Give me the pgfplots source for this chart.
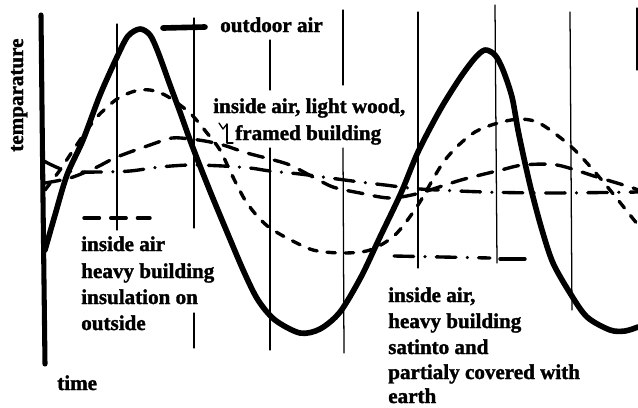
\documentclass[border=0pt]{standalone}
\usepackage{fontspec}
\setmainfont{Liberation Serif}[BoldFeatures={FakeBold=1.5}]
\usepackage{pgfplots}
\pgfplotsset{compat=1.18}
\tikzset{lbl/.style={anchor=base west, inner sep=0pt, font=\fontsize{15}{18}\selectfont\bfseries}}
\begin{document}
\begin{tikzpicture}
\begin{axis}[
  scale only axis, width=15.95cm, height=10.175cm,
  xmin=0, xmax=638, ymin=0, ymax=407, y dir=reverse,
  hide axis, clip=false,
  every axis plot/.append style={line cap=round, line join=round},
]
% vertical grid lines
\addplot[black, line width=0.9pt] coordinates {(117,24) (117,230)};
\addplot[black, line width=0.9pt] coordinates {(194,18) (194,228)};
\addplot[black, line width=0.9pt] coordinates {(194,313) (194,348)};
\addplot[black, line width=0.9pt] coordinates {(270,40) (270,90)};
\addplot[black, line width=0.9pt] coordinates {(270,148) (270,350)};
\addplot[black, line width=0.9pt] coordinates {(343,10) (343,85)};
\addplot[black, line width=0.9pt] coordinates {(343,148) (344,353)};
\addplot[black, line width=0.9pt] coordinates {(418,12) (418,268)};
\addplot[black, line width=0.9pt] coordinates {(495,5) (497,263)};
\addplot[black, line width=0.9pt] coordinates {(570,12) (572,310)};
\addplot[black, line width=0.9pt] coordinates {(637,8) (637,70)};
% bracket mark
\addplot[black, line width=0.9pt] coordinates {(219,123) (223,129) (227,124)};
\addplot[black, line width=0.9pt] coordinates {(227,124) (227,143) (233,143)};
% vertical axis
\addplot[black, line width=3.6pt] coordinates {(41,15) (43,200) (45,364)};
% outdoor air
\addplot[black, line width=4pt, smooth, tension=0.5] coordinates {
(45,250) (55,215) (67,175) (83,140) (100,95) (117,57) (128,36) (140,29) (150,35) (158,52)
(170,85) (180,112) (190,140) (200,166) (212,196) (227,232) (244,272) (258,300) (275,320)
(300,333) (320,329) (340,312) (361,277) (380,237) (401,193) (418,152) (440,110) (460,78)
(475,58) (485,50) (495,55) (503,70) (512,97) (518,130) (525,163) (532,193) (542,230)
(553,263) (570,293) (587,317) (610,330) (625,331) (638,327)};
% inside air, light wood
\addplot[black, line width=2.4pt, dash pattern=on 6pt off 7pt, smooth, tension=0.5] coordinates {
(45,190) (60,170) (80,140) (97,117) (117,99) (135,91) (150,90) (165,95) (180,105) (192,115)
(207,133) (220,150) (232,175) (245,200) (258,217) (270,228) (287,238) (313,250) (343,253)
(370,250) (395,235) (418,205) (445,160) (475,132) (511,120) (537,122) (567,143) (587,163)
(610,190) (638,225)};
% inside air, heavy, insulation outside
\addplot[black, line width=2.4pt, dash pattern=on 11pt off 8pt, smooth, tension=0.5] coordinates {
(45,183) (70,178) (95,168) (117,157) (150,145) (172,138) (190,139) (205,141) (223,145)
(247,153) (270,159) (290,165) (313,177) (333,187) (360,193) (390,198) (420,193) (461,180)
(501,170) (523,165) (557,165) (597,177) (630,187) (638,190)};
% inside air, heavy, earth
\addplot[black, line width=2.4pt, dash pattern=on 14pt off 8pt on 0.1pt off 8pt, smooth, tension=0.5] coordinates {
(42,160) (67,171) (100,172) (130,171) (160,167) (190,165) (223,166) (250,168) (270,171)
(300,174) (330,178) (360,182) (385,185) (420,189) (485,192) (551,193) (638,192)};
% legend samples
\addplot[black, line width=4pt] coordinates {(163,28) (205,27)};
\addplot[black, line width=2.4pt, dash pattern=on 11pt off 8pt] coordinates {(84,218) (150,218)};
\addplot[black, line width=2.4pt, dash pattern=on 14pt off 8pt on 0.1pt off 8pt] coordinates {(394,256) (490,258)};
\addplot[black, line width=2.4pt] coordinates {(500,259) (525,259)};
% labels
\node[lbl] at (axis cs:220,32) {outdoor air};
\node[lbl] at (axis cs:213,113) {inside air, light wood,};
\node[lbl] at (axis cs:235,140) {framed building};
\node[lbl] at (axis cs:81,251) {inside air};
\node[lbl] at (axis cs:81,278) {heavy building};
\node[lbl] at (axis cs:81,304) {insulation on};
\node[lbl] at (axis cs:81,330) {outside};
\node[lbl] at (axis cs:388,302) {inside air,};
\node[lbl] at (axis cs:388,328) {heavy building};
\node[lbl] at (axis cs:388,354) {satinto and};
\node[lbl] at (axis cs:388,379) {partialy covered with};
\node[lbl] at (axis cs:388,403) {earth};
\node[lbl] at (axis cs:57,390) {time};
\node[lbl, rotate=90] at (axis cs:23,152) {temparature};
\end{axis}
\pgfresetboundingbox
\path (current axis.south west) rectangle (current axis.north east);
\end{tikzpicture}
\end{document}
